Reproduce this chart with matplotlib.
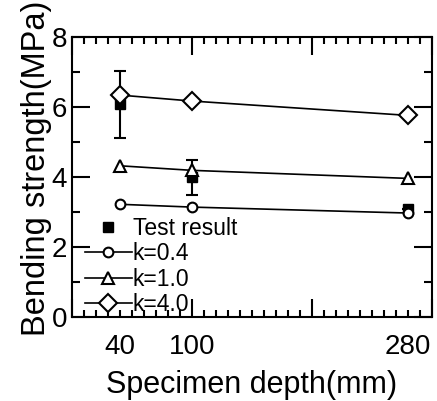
import matplotlib
matplotlib.use("Agg")
import matplotlib.pyplot as plt
from matplotlib.ticker import MultipleLocator

plt.rcParams['font.family'] = ['Liberation Sans', 'DejaVu Sans']

depth = [40, 100, 280]
test_mean = [6.08, 4.00, 3.09]
test_err_low = [0.97, 0.50, 0.0]
test_err_high = [0.95, 0.50, 0.0]
k04 = [3.22, 3.14, 2.97]
k10 = [4.32, 4.19, 3.96]
k40 = [6.34, 6.17, 5.76]
x_tick_labels = ['40', '100', '280']
y_ticks = [0, 2, 4, 6, 8]

fig = plt.figure(figsize=(4.37, 4.01), dpi=100)
ax = fig.add_axes([72/437, 1 - 317/401, 360/437, 280/401])

ax.errorbar(depth, test_mean, yerr=[test_err_low, test_err_high], fmt='none',
            ecolor='black', elinewidth=1.5, capsize=4.3, capthick=1.5, zorder=2)
h_test, = ax.plot(depth, test_mean, 's', color='black', ms=7.5, ls='none',
                  label='Test result', zorder=2)
h1, = ax.plot(depth, k04, '-o', color='black', mfc='white', mec='black', ms=7, mew=1.5,
              lw=1.2, label='k=0.4', zorder=3)
h2, = ax.plot(depth, k10, '-^', color='black', mfc='white', mec='black', ms=9, mew=1.5,
              lw=1.2, label='k=1.0', zorder=3)
h3, = ax.plot(depth, k40, '-D', color='black', mfc='white', mec='black', ms=9, mew=1.5,
              lw=1.2, label='k=4.0', zorder=3)

ax.set_xlim(0, 300)
ax.set_ylim(0, 8)
ax.xaxis.set_major_locator(MultipleLocator(100))
ax.xaxis.set_minor_locator(MultipleLocator(10))
ax.set_yticks(y_ticks)
ax.yaxis.set_minor_locator(MultipleLocator(1))
ax.tick_params(axis='x', which='major', direction='in', length=13, width=1.5,
               top=True, bottom=True, labelbottom=False)
ax.tick_params(axis='x', which='minor', direction='in', length=5, width=1.5,
               top=True, bottom=True)
ax.tick_params(axis='y', which='major', direction='in', length=13, width=1.5,
               left=True, right=True, labelsize=20, pad=3.5)
ax.tick_params(axis='y', which='minor', direction='in', length=6, width=1.5,
               left=True, right=True)
for s in ax.spines.values():
    s.set_linewidth(1.5)

sec = ax.secondary_xaxis('bottom')
sec.set_xticks(depth, x_tick_labels)
sec.tick_params(length=0, labelsize=20, pad=12)
sec.spines['bottom'].set_visible(False)

ax.set_xlabel('Specimen depth(mm)', fontsize=22, labelpad=35)
ax.set_ylabel('Bending strength(MPa)', fontsize=23.5)
ax.yaxis.set_label_coords(-0.055, 0.53)

leg = ax.legend(handles=[h_test, h1, h2, h3], loc='lower left',
                bbox_to_anchor=(0.035, 0.004), frameon=False,
                fontsize=16.5, handlelength=2.05, handletextpad=0.05,
                labelspacing=0.1, borderpad=0, borderaxespad=0)

fig.savefig('out.png', dpi=100)
